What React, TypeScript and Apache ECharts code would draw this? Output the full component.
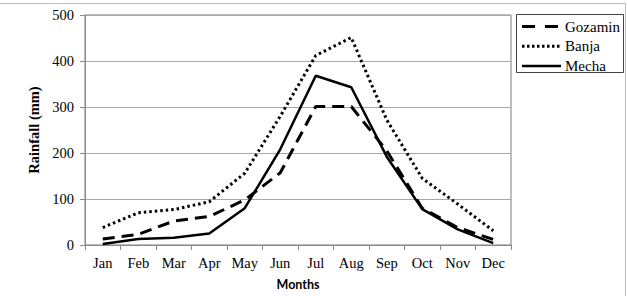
import React, { useEffect, useRef } from "react";
import * as echarts from "echarts";

const months = ["Jan", "Feb", "Mar", "Apr", "May", "Jun", "Jul", "Aug", "Sep", "Oct", "Nov", "Dec"];
const gozamin = [13, 23, 52, 62, 98, 157, 301, 301, 205, 80, 38, 12];
const banja = [38, 70, 77, 94, 156, 280, 412, 451, 272, 145, 89, 31];
const mecha = [2, 13, 16, 25, 80, 208, 368, 343, 192, 78, 34, 4];
const seriesNames = ["Gozamin", "Banja", "Mecha"];
const yTicks = { min: 0, max: 500, interval: 100 };

export default function App() {
  const ref = useRef<HTMLDivElement>(null);
  useEffect(() => {
    document.body.style.margin = "0";
    const chart = echarts.init(ref.current!, null, { renderer: "svg" });
    const serif = "'Liberation Serif', 'Times New Roman', serif";
    const dashStyles: any[] = [
      { lineDash: [13, 10], lineWidth: 3 },
      { lineDash: [2.5, 2.5], lineWidth: 3 },
      { lineDash: null, lineWidth: 2.5 },
    ];
    const legendItems: any[] = [];
    seriesNames.forEach((n, i) => {
      const y = 26.5 + i * 19.7;
      legendItems.push({
        type: "line",
        shape: { x1: 522, y1: y, x2: 561, y2: y },
        style: { stroke: "#000", lineWidth: dashStyles[i].lineWidth, lineDash: dashStyles[i].lineDash },
      });
      legendItems.push({
        type: "text",
        x: 565,
        y: y,
        style: { text: n, fontFamily: serif, fontSize: 15, fill: "#000", verticalAlign: "middle", align: "left" },
      });
    });
    chart.setOption({
      animation: false,
      backgroundColor: "#fff",
      grid: { left: 85, right: 116, top: 15, bottom: 49, show: true, borderColor: "#7a7a7a", borderWidth: 1 },
      xAxis: {
        type: "category",
        data: months,
        boundaryGap: true,
        axisLine: { lineStyle: { color: "#8a8a8a", width: 1 } },
        axisTick: { show: true, interval: 0, length: 5, lineStyle: { color: "#8a8a8a" } },
        axisLabel: { interval: 0, fontFamily: serif, fontSize: 14.5, color: "#000", margin: 10 },
        name: "Months",
        nameLocation: "middle",
        nameGap: 33,
        nameTextStyle: { fontFamily: "Lato", fontWeight: "bold", fontSize: 12.5, color: "#000" },
      },
      yAxis: {
        type: "value",
        min: yTicks.min,
        max: yTicks.max,
        interval: yTicks.interval,
        axisLine: { show: true, lineStyle: { color: "#8a8a8a", width: 1 } },
        axisTick: { show: true, length: 5, lineStyle: { color: "#8a8a8a" } },
        splitLine: { lineStyle: { color: "#a8a8a8", width: 1 } },
        axisLabel: { fontFamily: serif, fontSize: 14.5, color: "#000", margin: 11 },
        name: "Rainfall (mm)",
        nameLocation: "middle",
        nameGap: 42,
        nameTextStyle: { fontFamily: serif, fontWeight: "bold", fontSize: 14.5, color: "#000" },
      },
      series: [
        {
          name: seriesNames[0],
          type: "line",
          data: gozamin,
          symbol: "none",
          lineStyle: { color: "#000", width: 3, type: [12, 7] },
          itemStyle: { color: "#000" },
        },
        {
          name: seriesNames[1],
          type: "line",
          data: banja,
          symbol: "none",
          lineStyle: { color: "#000", width: 3, type: [2.5, 3] },
          itemStyle: { color: "#000" },
        },
        {
          name: seriesNames[2],
          type: "line",
          data: mecha,
          symbol: "none",
          lineStyle: { color: "#000", width: 2.5, type: "solid" },
          itemStyle: { color: "#000" },
        },
      ],
      graphic: [
        { type: "line", shape: { x1: 0, y1: 3.5, x2: 625.5, y2: 3.5 }, style: { stroke: "#bdbdbd", lineWidth: 1 } },
        { type: "line", shape: { x1: 625.5, y1: 3.5, x2: 625.5, y2: 296 }, style: { stroke: "#bdbdbd", lineWidth: 1 } },
        {
          type: "rect",
          shape: { x: 516.5, y: 14.5, width: 107, height: 58 },
          style: { fill: "#fff", stroke: "#444", lineWidth: 1 },
        },
        ...legendItems,
      ],
    });
    return () => chart.dispose();
  }, []);
  return <div ref={ref} style={{ width: 627, height: 296, position: "absolute", left: 0, top: 0 }} />;
}
